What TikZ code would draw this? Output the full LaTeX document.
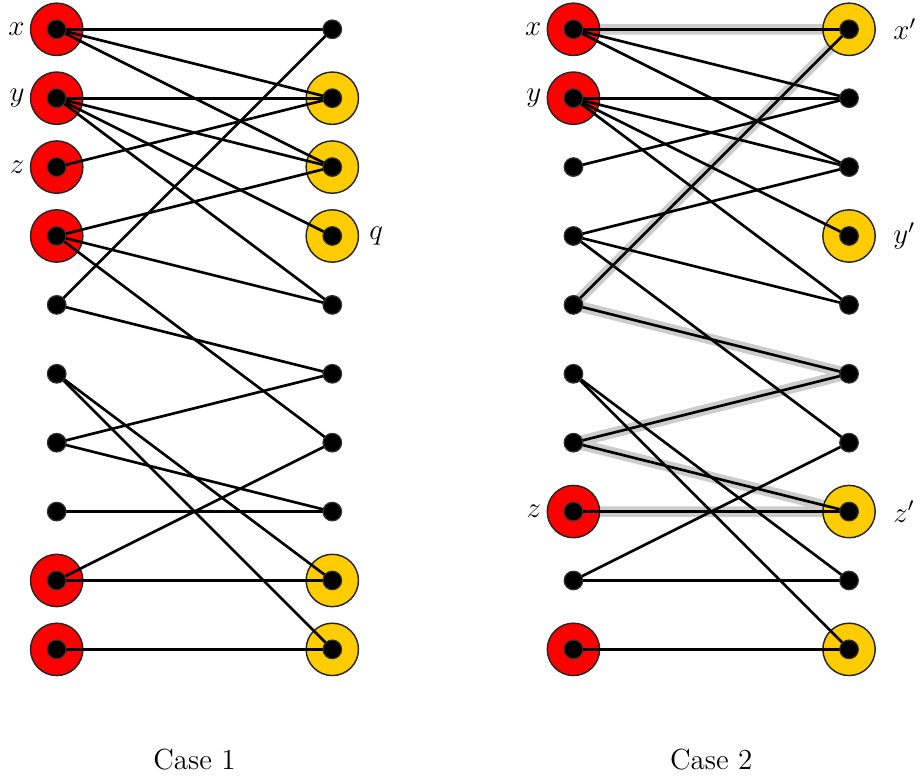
\documentclass[tikz,border=0pt]{standalone}
\usepackage{tikz}
\usepackage{amsmath}

\begin{document}
\begin{tikzpicture}[
    font=\large,
    edge/.style={line width=1.1pt, black},
    hilite/.style={line width=4.4pt, pathgray, line join=round},
    ring/.style={circle, draw=black!85, line width=0.6pt, minimum size=0.76cm, inner sep=0pt},
    dot/.style={circle, fill=black, draw=black!80, line width=0.5pt, minimum size=0.27cm, inner sep=0pt}
]

    \definecolor{ringred}{RGB}{255,0,0}
    \definecolor{ringyellow}{RGB}{255,204,0}
    \definecolor{pathgray}{RGB}{204,204,204}

    \useasboundingbox (-0.823,0.425) rectangle (12.53,-10.88);

    % Place the four columns of vertices
    \foreach \i in {1,...,10} {
        \coordinate (a\i) at (0,{1-\i});
        \coordinate (b\i) at (4,{1-\i});
        \coordinate (c\i) at (7.5,{1-\i});
        \coordinate (d\i) at (11.5,{1-\i});
    }

    % Draw the alternating path of case 2 underneath everything
    \draw[hilite] (c8) -- (d8) -- (c7) -- (d6) -- (c5) -- (d1) -- (c1);

    % Draw the red and yellow discs
    \foreach \v in {1,2,3,4,9,10} \node[ring, fill=ringred] (ra\v) at (a\v) {};
    \foreach \v in {2,3,4,9,10} \node[ring, fill=ringyellow] (rb\v) at (b\v) {};
    \foreach \v in {1,2,8,10} \node[ring, fill=ringred] (rc\v) at (c\v) {};
    \foreach \v in {1,4,8,10} \node[ring, fill=ringyellow] (rd\v) at (d\v) {};

    % Draw the edges, the same graph in both cases
    \foreach \l/\r in {1/1,1/2,1/3,2/2,2/3,2/4,2/5,3/2,4/3,4/5,4/7,5/1,5/6,6/9,6/10,7/6,7/8,8/8,9/7,9/9,10/10} {
        \draw[edge] (a\l) -- (b\r);
        \draw[edge] (c\l) -- (d\r);
    }

    % Draw the vertices on top
    \foreach \i in {1,...,10} {
        \node[dot] (va\i) at (a\i) {};
        \node[dot] (vb\i) at (b\i) {};
        \node[dot] (vc\i) at (c\i) {};
        \node[dot] (vd\i) at (d\i) {};
    }

    % Labels
    \node[left, inner sep=2pt] (lx1) at (ra1.west) {$x$};
    \node[left, inner sep=2pt] (ly1) at (ra2.west) {$y$};
    \node[left, inner sep=2pt] (lz1) at (ra3.west) {$z$};
    \node[right, inner sep=4pt] (lq) at (rb4.east) {$q$};

    \node[left, inner sep=2pt] (lx2) at (rc1.west) {$x$};
    \node[left, inner sep=2pt] (ly2) at (rc2.west) {$y$};
    \node[left, inner sep=2pt] (lz2) at (rc8.west) {$z$};
    \node[right, inner sep=7pt] (lx3) at (rd1.east) {$x'$};
    \node[right, inner sep=7pt] (ly3) at (rd4.east) {$y'$};
    \node[right, inner sep=7pt] (lz3) at (rd8.east) {$z'$};

    \node[anchor=base] (case1) at (2,-10.74) {Case 1};
    \node[anchor=base] (case2) at (9.5,-10.74) {Case 2};

\end{tikzpicture}
\end{document}
